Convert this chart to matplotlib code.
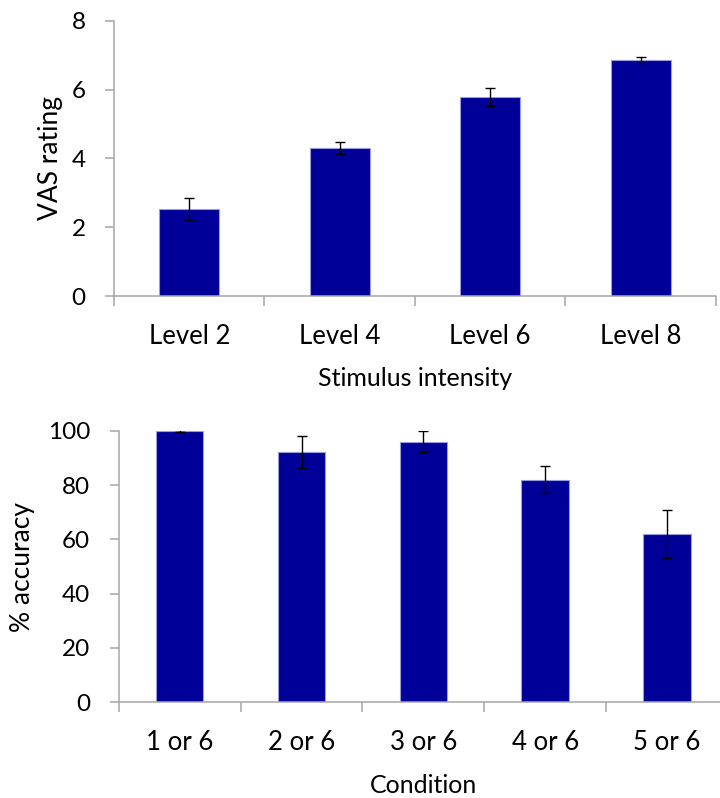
import numpy as np
import matplotlib.pyplot as plt

plt.rcParams['font.family'] = ['Lato', 'DejaVu Sans']

# VAS ratings per stimulus level
levels = ['Level 2', 'Level 4', 'Level 6', 'Level 8']
vas_mean = [2.53, 4.31, 5.78, 6.86]
vas_err = [0.31, 0.18, 0.26, 0.08]

# Discrimination accuracy per condition
conditions = ['1 or 6', '2 or 6', '3 or 6', '4 or 6', '5 or 6']
acc_mean = [100, 92.2, 96.1, 82.0, 62.0]
acc_err = [0.3, 6.0, 4.0, 5.0, 8.7]

bar_color = '#000099'
edge_color = '#9a9ae0'
spine_color = '#a6a6a6'

fig = plt.figure(figsize=(7.2, 7.98), dpi=100)
ax1 = fig.add_axes([0.1583, 0.629, 0.836, 0.345])
ax2 = fig.add_axes([0.165, 0.120, 0.846, 0.340])


def style(ax, n, ymax, ystep, labels, xlabel, ylabel):
    ax.set_xlim(-0.5, n - 0.5)
    ax.set_ylim(0, ymax)
    ax.set_yticks(np.arange(0, ymax + 0.01, ystep))
    # category boundaries get the tick marks, centres get the labels
    ax.set_xticks(np.arange(n + 1) - 0.5)
    ax.set_xticklabels([])
    ax.set_xticks(np.arange(n), minor=True)
    ax.set_xticklabels(labels, minor=True)
    ax.tick_params(axis='x', which='minor', length=0, pad=20, labelsize=18.5)
    ax.tick_params(axis='x', which='major', length=7, width=1.1,
                   color=spine_color, direction='out')
    ax.tick_params(axis='y', length=6.5, width=1.1, color=spine_color,
                   labelsize=17.5, pad=14)
    for s in ['top', 'right']:
        ax.spines[s].set_visible(False)
    for s in ['left', 'bottom']:
        ax.spines[s].set_color(spine_color)
        ax.spines[s].set_linewidth(1.1)
    ax.set_xlabel(xlabel, fontsize=18)
    ax.set_ylabel(ylabel, fontsize=19)


x1 = np.arange(len(levels))
ax1.bar(x1, vas_mean, width=0.4, color=bar_color, edgecolor=edge_color,
        linewidth=0.8, zorder=2)
ax1.errorbar(x1, vas_mean, yerr=vas_err, fmt='none', ecolor='black',
             elinewidth=1.0, capsize=3.8, capthick=1.0, zorder=3)
style(ax1, len(levels), 8, 2, levels, 'Stimulus intensity', 'VAS rating')
ax1.yaxis.set_label_coords(-0.085, 0.5)
ax1.xaxis.set_label_coords(0.5, -0.256)

x2 = np.arange(len(conditions))
ax2.bar(x2, acc_mean, width=0.39, color=bar_color, edgecolor=edge_color,
        linewidth=0.8, zorder=2)
ax2.errorbar(x2, acc_mean, yerr=acc_err, fmt='none', ecolor='black',
             elinewidth=1.0, capsize=3.8, capthick=1.0, zorder=3)
style(ax2, len(conditions), 100, 20, conditions, 'Condition', '% accuracy')
ax2.yaxis.set_label_coords(-0.138, 0.5)
ax2.xaxis.set_label_coords(0.5, -0.266)

fig.savefig('out.png', dpi=100)
